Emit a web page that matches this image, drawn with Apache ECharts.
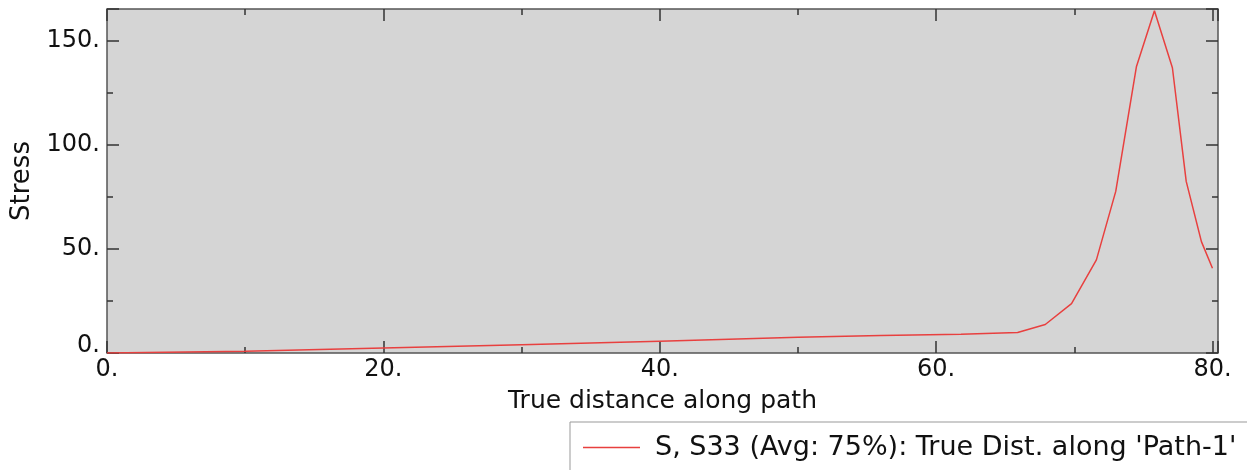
<!DOCTYPE html>
<html>
<head>
<meta charset="utf-8">
<script src="https://cdn.jsdelivr.net/npm/echarts@6/dist/echarts.min.js"></script>
<style>
  html, body { margin: 0; padding: 0; background: #fff; }
  #chart { width: 1247px; height: 470px; }
</style>
</head>
<body>
<div id="chart"></div>
<script>
// path distance and S33 stress
const dist = [0, 10, 20, 30, 40, 50, 56, 61.8, 65.9, 67.9, 69.8, 71.6, 73.0, 74.5, 75.8, 77.1, 78.1, 79.2, 80.0];
const stress = [0, 0.8, 2.4, 4.0, 5.7, 7.6, 8.4, 9.0, 9.8, 13.7, 23.7, 44.7, 77.6, 137.6, 164.4, 137.0, 82.4, 53.5, 40.7];
const xTicks = [0, 20, 40, 60, 80];
const yTicks = [0, 50, 100, 150];
const seriesName = "S, S33 (Avg: 75%): True Dist. along 'Path-1'";

const font = 'DejaVu Sans';
const points = dist.map((d, i) => [d, stress[i]]);

const xMax = 80.4, yMax = 165.2;
const tickStyle = { color: '#333', width: 1.5 };

function xAxisDef(pos, interval, len, labels) {
  return {
    type: 'value', position: pos, min: 0, max: xMax, interval: interval,
    axisLine: { show: false, onZero: false },
    splitLine: { show: false },
    axisTick: { show: true, inside: true, length: len, lineStyle: tickStyle },
    axisLabel: labels ? {
      show: true, margin: 5, color: '#111', fontFamily: font, fontSize: 24,
      formatter: v => xTicks.indexOf(v) >= 0 ? v + '.' : ''
    } : { show: false },
    name: labels ? 'True distance along path' : '',
    nameLocation: 'middle', nameGap: 36,
    nameTextStyle: { color: '#111', fontFamily: font, fontSize: 25 }
  };
}

function yAxisDef(pos, interval, len, labels) {
  return {
    type: 'value', position: pos, min: 0, max: yMax, interval: interval,
    axisLine: { show: false, onZero: false },
    splitLine: { show: false },
    axisTick: { show: true, inside: true, length: len, lineStyle: tickStyle },
    axisLabel: labels ? {
      show: true, margin: 7, color: '#111', fontFamily: font, fontSize: 24,
      formatter: v => v === 0 ? '{z|0.}' : (yTicks.indexOf(v) >= 0 ? v + '.' : ''),
      rich: { z: { fontFamily: font, fontSize: 24, color: '#111', padding: [0, 0, 14, 0] } }
    } : { show: false },
    name: labels ? 'Stress' : '',
    nameLocation: 'middle', nameGap: 70,
    nameTextStyle: { color: '#111', fontFamily: font, fontSize: 26 }
  };
}

const chart = echarts.init(document.getElementById('chart'));
chart.setOption({
  animation: false,
  backgroundColor: '#fff',
  grid: {
    left: 107, top: 9, right: 29, bottom: 117,
    show: true, backgroundColor: '#d5d5d5', borderColor: '#555', borderWidth: 1.5
  },
  xAxis: [
    xAxisDef('bottom', 20, 12, true),
    xAxisDef('top', 20, 12, false),
    xAxisDef('bottom', 10, 6, false),
    xAxisDef('top', 10, 6, false)
  ],
  yAxis: [
    yAxisDef('left', 50, 12, true),
    yAxisDef('right', 50, 12, false),
    yAxisDef('left', 25, 6, false),
    yAxisDef('right', 25, 6, false)
  ],
  legend: {
    show: true, left: 570, top: 422,
    padding: [12, 60, 30, 13],
    borderColor: '#999', borderWidth: 1,
    itemWidth: 57, itemHeight: 1.5,
    icon: 'rect',
    textStyle: { color: '#111', fontFamily: font, fontSize: 27, padding: [0, 0, 0, 10] },
    data: [seriesName]
  },
  series: [{
    name: seriesName,
    type: 'line',
    data: points,
    symbol: 'none',
    z: 5,
    lineStyle: { color: '#e8403f', width: 1.5 },
    itemStyle: { color: '#e8403f' }
  }]
});
</script>
</body>
</html>
